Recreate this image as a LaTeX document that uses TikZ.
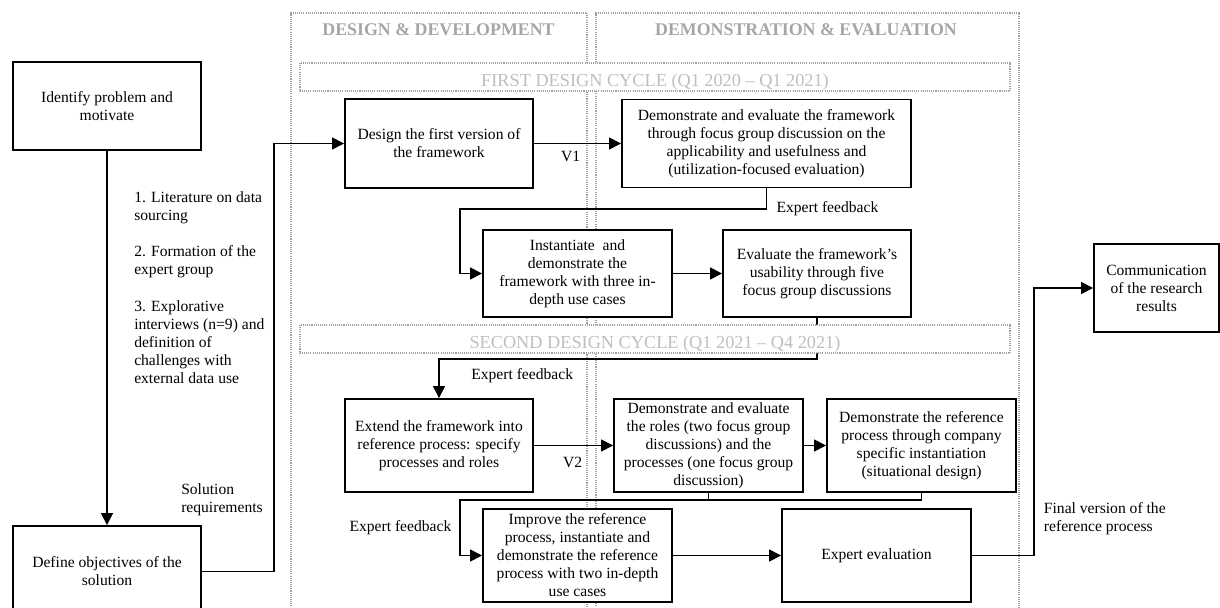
\documentclass[tikz,border=0pt]{standalone}
\usepackage{fontspec}
\setmainfont{Liberation Serif}
\usetikzlibrary{arrows.meta}
\definecolor{headgray}{RGB}{166,166,166}
\definecolor{bandgray}{RGB}{191,191,191}
\definecolor{dotgray}{RGB}{160,160,160}
\begin{document}
\begin{tikzpicture}[x=0.75pt, y=-0.75pt,
  every node/.style={font=\fontsize{11.7pt}{13.5pt}\selectfont},
  box/.style={draw, line width=1.4pt, fill=white, align=center, inner sep=2pt, minimum width=141pt, minimum height=66pt},
  arr/.style={line width=1pt, -{Triangle[length=9pt,width=9pt]}},
  lbl/.style={align=left, inner sep=0pt},
  dots/.style={draw=dotgray, line width=0.8pt, dash pattern=on 0.8pt off 0.8pt},
  head/.style={text=headgray, font=\fontsize{13.4pt}{16pt}\selectfont\bfseries, anchor=base},
  band/.style={dots, fill=white},
  bandtext/.style={text=bandgray, font=\fontsize{13.7pt}{16pt}\selectfont, anchor=base}]
  \useasboundingbox (0,0) rectangle (1220,607);
  \draw[dots] (291,615) -- (291,13) -- (587,13) -- (587,615);
  \draw[dots] (596,615) -- (596,13) -- (1019,13) -- (1019,615);
  \node[head] (hdd) at (438.5,35) {DESIGN \& DEVELOPMENT};
  \node[head] (hde) at (806,35) {DEMONSTRATION \& EVALUATION};
  \node[box] (ident) at (107,106) {Identify problem and\\motivate};
  \node[box, minimum height=68.25pt] (defobj) at (107,571.5) {Define objectives of the\\solution};
  \node[box, minimum height=66.75pt] (d1) at (439,143.5) {Design the first version of\\the framework};
  \node[box, minimum width=216.75pt] (e1) at (766.5,143.5) {Demonstrate and evaluate the framework\\through focus group discussion on the\\applicability and usefulness and\\(utilization-focused evaluation)};
  \node[box, minimum width=141.75pt, minimum height=65.25pt] (i1) at (577.5,273.5) {Instantiate~ and\\demonstrate the\\framework with three in-\\depth use cases};
  \node[box, minimum height=65.25pt] (u1) at (817,273.5) {Evaluate the framework’s\\usability through five\\focus group discussions};
  \node[box, minimum height=69.75pt] (x2) at (439,445.5) {Extend the framework into\\reference process: specify\\processes and roles};
  \node[box, minimum width=141.75pt, minimum height=69.75pt] (e2) at (708.5,445.5) {Demonstrate and evaluate\\the roles (two focus group\\discussions) and the\\processes (one focus group\\discussion)};
  \node[box, minimum width=141.75pt, minimum height=69.75pt] (s2) at (921.5,445.5) {Demonstrate the reference\\process through company\\specific instantiation\\(situational design)};
  \node[box, minimum width=141.75pt, minimum height=69.75pt] (m2) at (577.5,555.5) {Improve the reference\\process, instantiate and\\demonstrate the reference\\process with two in-depth\\use cases};
  \node[box, minimum width=141.75pt, minimum height=69.75pt] (ev) at (876.5,555.5) {Expert evaluation};
  \node[box, minimum width=93.75pt] (comm) at (1156.5,288) {Communication\\of the research\\results};
  \node[lbl, anchor=north west] (steps) at (134,191) {1. Literature on data\\sourcing\\[14pt]2. Formation of the\\expert group\\[14pt]3. Explorative\\interviews (n=9) and\\definition of\\challenges with\\external data use};
  \node[lbl, anchor=north west] (solreq) at (181,483) {Solution\\requirements};
  \coordinate (fb1) at (460,209);
  \coordinate (fb3) at (460,500);
  \draw[arr] (ident) -- (defobj);
  \draw[arr] (defobj.east) -- ++(72,0) |- (d1.west);
  \draw[arr] (d1) -- node[lbl, below=5pt, pos=0.42] (v1) {V1} (e1);
  \draw[arr] (e1.south) |- node[lbl, right=7pt, pos=0.5] (fbk1) {Expert feedback} (fb1) |- (i1.west);
  \draw[arr] (i1) -- (u1);
  \draw[arr] (u1.south) -- ++(0,41) -| node[lbl, below=7pt, pos=0.39] (fbk2) {Expert feedback} (x2.north);
  \draw[arr] (x2) -- node[lbl, below=8pt, pos=0.49] (v2) {V2} (e2);
  \draw[arr] (e2) -- (s2);
  \draw[line width=1pt] (e2.south) -- (e2.south |- fb3);
  \draw[arr] (s2.south) |- (fb3) |- node[lbl, left=6pt, pos=0.25] (fbk3) {Expert feedback} (m2.west);
  \draw[arr] (m2) -- (ev);
  \draw[arr] (ev.east) -- ++(62,0) |- node[lbl, right=7pt, pos=0.069] (fin) {Final version of the\\reference process} (comm.west);
  \draw[band] (300,63) rectangle (1010,91);
  \node[bandtext] (c1) at (655,86) {FIRST DESIGN CYCLE (Q1 2020 \textendash{} Q1 2021)};
  \draw[band] (300,325) rectangle (1010,353);
  \node[bandtext] (c2) at (655,348) {SECOND DESIGN CYCLE (Q1 2021 \textendash{} Q4 2021)};
\end{tikzpicture}
\end{document}
